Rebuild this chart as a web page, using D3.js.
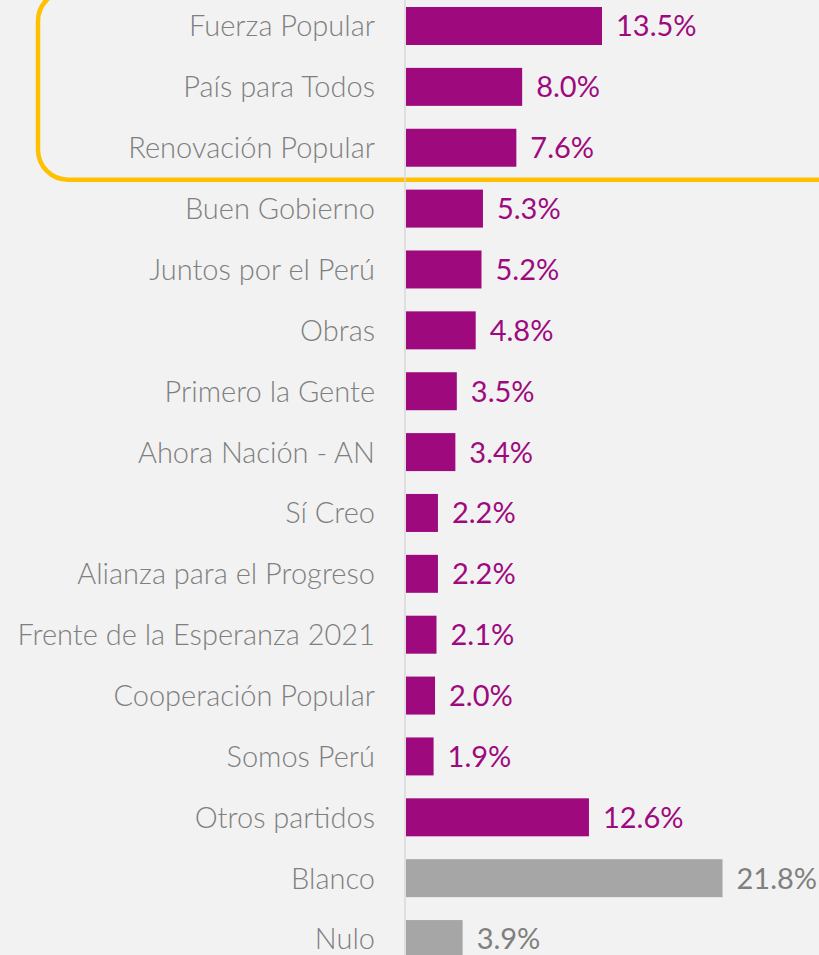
<!DOCTYPE html>
<html>
<head>
<meta charset="utf-8">
<script src="https://cdn.jsdelivr.net/npm/d3@7"></script>
<style>
  html, body { margin: 0; padding: 0; background: #f2f2f2; overflow: hidden; }
  svg { display: block; }
</style>
</head>
<body>
<div id="main"></div>
<script>
var partidos = ["Fuerza Popular", "País para Todos", "Renovación Popular", "Buen Gobierno",
    "Juntos por el Perú", "Obras", "Primero la Gente", "Ahora Nación - AN", "Sí Creo",
    "Alianza para el Progreso", "Frente de la Esperanza 2021", "Cooperación Popular",
    "Somos Perú", "Otros partidos", "Blanco", "Nulo"];
var porcentajes = [13.5, 8.0, 7.6, 5.3, 5.2, 4.8, 3.5, 3.4, 2.2, 2.2, 2.1, 2.0, 1.9, 12.6, 21.8, 3.9];
var grises = ["Blanco", "Nulo"];
var destacados = ["Fuerza Popular", "País para Todos", "Renovación Popular"];

var width = 819;
var height = 955;
var purple = "#9e0a7e";
var grey_bar = "#a6a6a6";
var grey_text = "#7f7f7f";
var font = "Lato, 'Open Sans', sans-serif";

var data = partidos.map(function(d, i) {
    return {name: d, value: porcentajes[i]};
});

var svg = d3.select("#main")
    .append("svg")
    .attr("width", width)
    .attr("height", height);

svg.append("rect")
    .attr("width", width)
    .attr("height", height)
    .attr("fill", "#f2f2f2");

var step = 60.87;
var y = d3.scaleBand()
    .domain(partidos)
    .range([26 - step / 2, 26 - step / 2 + step * partidos.length])
    .paddingInner(0.376)
    .paddingOuter(0.188);

var x = d3.scaleLinear()
    .domain([0, 22])
    .range([406, 406 + 14.52 * 22]);

// highlight box around top three
var top3 = destacados.map(function(d) { return y(d); });
var box_bottom = d3.max(top3) + y.bandwidth() + 13;
svg.append("rect")
    .attr("x", 38)
    .attr("y", -9)
    .attr("width", 850)
    .attr("height", box_bottom + 9)
    .attr("rx", 30)
    .attr("ry", 30)
    .attr("fill", "none")
    .attr("stroke", "#ffc000")
    .attr("stroke-width", 4.5);

// vertical axis line
svg.append("line")
    .attr("x1", x(0) - 1)
    .attr("x2", x(0) - 1)
    .attr("y1", 0)
    .attr("y2", height)
    .attr("stroke", "#d9d9d9")
    .attr("stroke-width", 1.5);

var rows = svg.selectAll(".row")
    .data(data)
    .enter()
    .append("g")
    .attr("class", "row");

rows.append("rect")
    .attr("x", x(0))
    .attr("y", function(d) { return y(d.name); })
    .attr("width", function(d) { return x(d.value) - x(0); })
    .attr("height", y.bandwidth())
    .attr("fill", function(d) { return grises.indexOf(d.name) >= 0 ? grey_bar : purple; });

rows.append("text")
    .attr("x", 375)
    .attr("y", function(d) { return y(d.name) + y.bandwidth() / 2; })
    .attr("dy", "0.36em")
    .attr("text-anchor", "end")
    .style("font-family", font)
    .style("font-size", "29px")
    .style("font-weight", 300)
    .attr("fill", grey_text)
    .text(function(d) { return d.name; });

rows.append("text")
    .attr("x", function(d) { return x(d.value) + 14; })
    .attr("y", function(d) { return y(d.name) + y.bandwidth() / 2; })
    .attr("dy", "0.36em")
    .style("font-family", font)
    .style("font-size", "29px")
    .style("font-weight", 400)
    .attr("fill", function(d) { return grises.indexOf(d.name) >= 0 ? grey_text : purple; })
    .text(function(d) { return d.value.toFixed(1) + "%"; });
</script>
</body>
</html>
